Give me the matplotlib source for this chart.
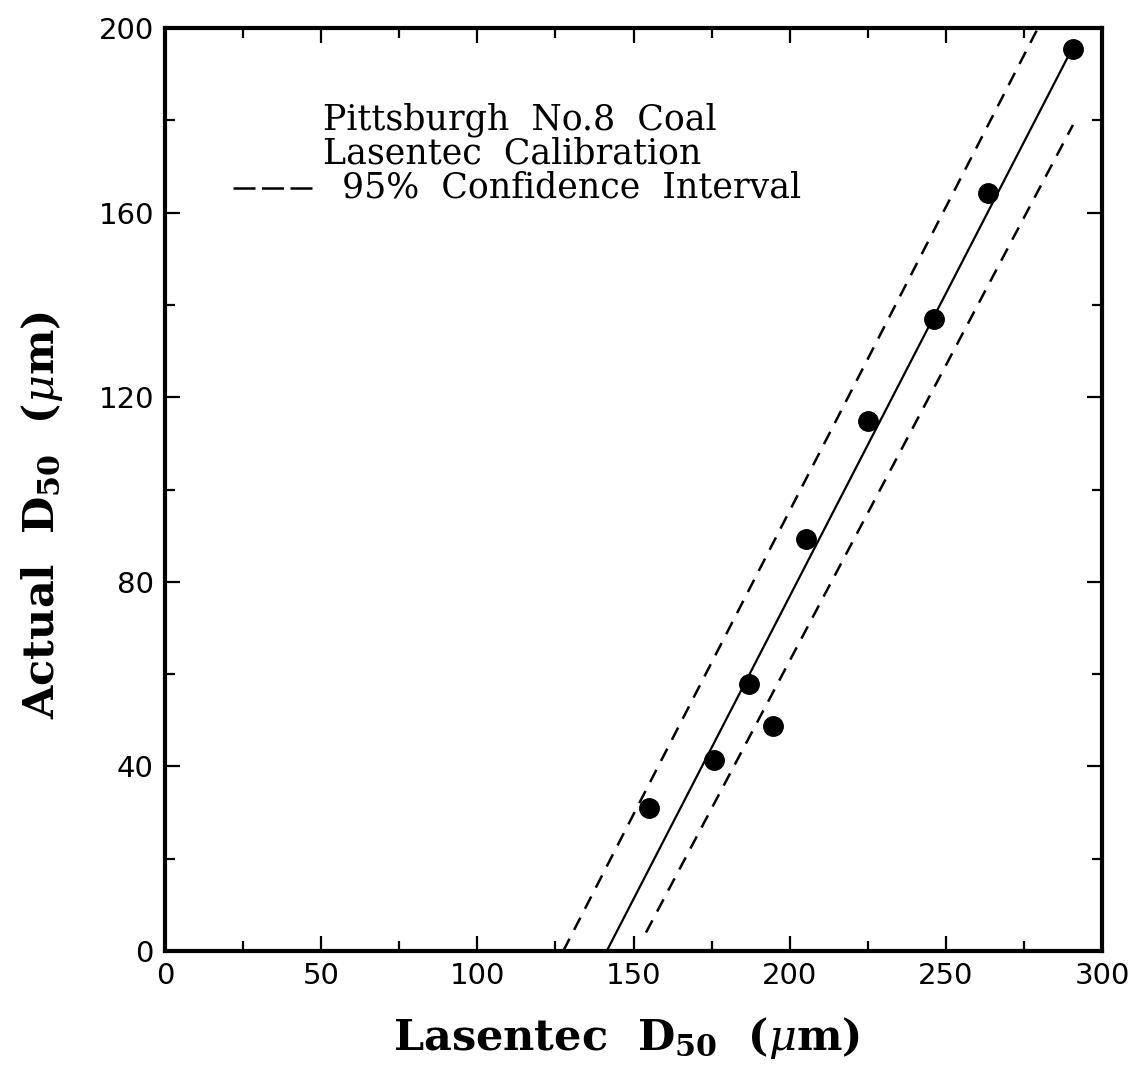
import matplotlib
matplotlib.use("Agg")
import matplotlib.pyplot as plt
import numpy as np

# measured calibration points (Lasentec D50 vs actual D50, um)
lasentec_d50 = [155.0, 175.8, 187.0, 194.7, 205.3, 225.1, 246.2, 263.5, 290.7]
actual_d50 = [31.0, 41.3, 57.8, 48.7, 89.2, 114.9, 137.0, 164.3, 195.5]

# 95% confidence interval limits (end points of each dashed line)
upper_ci_x = [127.5, 279.5]
upper_ci_y = [0.0, 200.0]
lower_ci_x = [154.0, 290.7]
lower_ci_y = [4.0, 179.0]

x_ticks = [0, 50, 100, 150, 200, 250, 300]
y_ticks = [0, 40, 80, 120, 160, 200]

plt.rcParams['mathtext.fontset'] = 'dejavuserif'

fig = plt.figure(figsize=(11.33, 10.73), dpi=100)
ax = fig.add_axes([165 / 1133, (1073 - 951) / 1073, 937 / 1133, 923 / 1073])

# least squares calibration line
slope, intercept = np.polyfit(lasentec_d50, actual_d50, 1)
fit_x = np.array([-intercept / slope, max(lasentec_d50)])
ax.plot(fit_x, slope * fit_x + intercept, color='black', lw=1.6, zorder=2)

ax.plot(upper_ci_x, upper_ci_y, color='black', lw=1.8, dashes=(5.5, 4), zorder=2)
ax.plot(lower_ci_x, lower_ci_y, color='black', lw=1.8, dashes=(5.5, 4), zorder=2)

ax.plot(lasentec_d50, actual_d50, 'o', color='black', ms=14, zorder=3)

ax.set_xlim(0, 300)
ax.set_ylim(0, 200)
ax.set_xticks(x_ticks)
ax.set_yticks(y_ticks)
ax.set_xticks(np.arange(25, 300, 50), minor=True)
ax.set_yticks(np.arange(20, 200, 40), minor=True)
ax.tick_params(which='both', direction='in', top=True, right=True, width=1.6,
               labelsize=21, pad=8)
ax.tick_params(which='major', length=11)
ax.tick_params(which='minor', length=7)
for lab in ax.get_xticklabels() + ax.get_yticklabels():
    lab.set_fontfamily('DejaVu Sans')
for sp in ax.spines.values():
    sp.set_linewidth(3)

ax.set_xlabel(r'Lasentec  D$_{\mathbf{50}}$  ($\mu$m)', fontsize=31,
              fontweight='bold', family='DejaVu Serif', labelpad=18)
ax.set_ylabel(r'Actual  D$_{\mathbf{50}}$  ($\mu$m)', fontsize=31,
              fontweight='bold', family='DejaVu Serif', labelpad=24)
ax.xaxis.label.set_x(0.492)
ax.yaxis.label.set_y(0.472)

# key in the upper left corner
txt = dict(fontsize=25, family='DejaVu Serif', transform=ax.transAxes,
           va='baseline', ha='left')
ax.text(0.169, 0.8895, 'Pittsburgh  No.8  Coal', **txt)
ax.text(0.169, 0.8527, 'Lasentec  Calibration', **txt)
ax.text(0.189, 0.8159, '95%  Confidence  Interval', **txt)
ax.plot([0.0726, 0.157], [0.8266, 0.8266], color='black', lw=1.8,
        dashes=(8.8, 2.6), transform=ax.transAxes)

fig.savefig('out.png', dpi=100)
